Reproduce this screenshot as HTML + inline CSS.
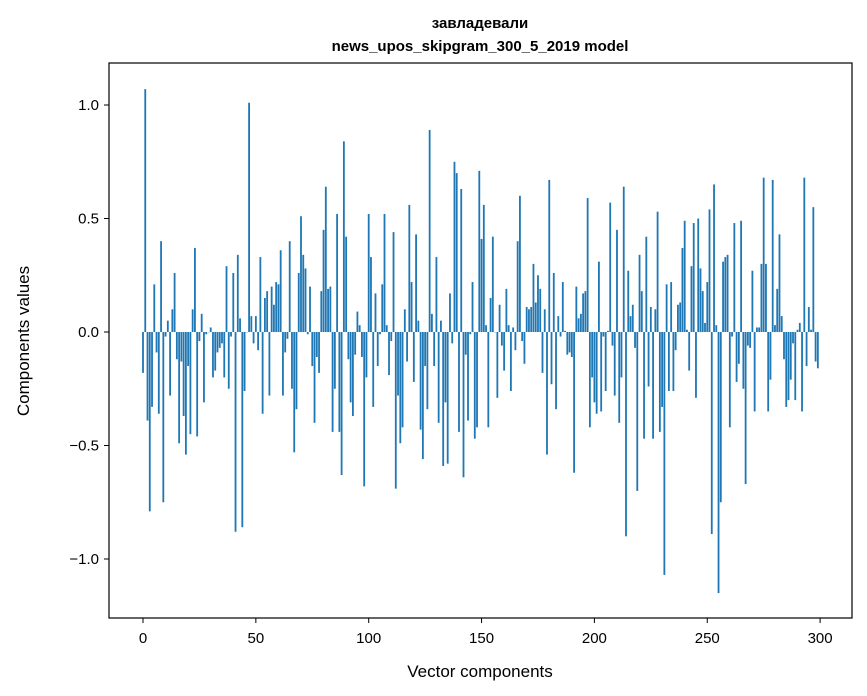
<!DOCTYPE html>
<html><head><meta charset="utf-8"><style>
html,body{margin:0;padding:0;background:#fff;}
svg{display:block;font-family:"Liberation Sans","DejaVu Sans",sans-serif;}
</style></head><body>
<svg id="chart" width="867" height="696" viewBox="0 0 867 696" xmlns="http://www.w3.org/2000/svg">
<rect width="867" height="696" fill="#fff"/>
<text x="480" y="28" text-anchor="middle" font-size="15" font-weight="bold">завладевали</text>
<text x="480" y="51" text-anchor="middle" font-size="15" font-weight="bold">news_upos_skipgram_300_5_2019 model</text>
<g id="bars"></g>
<g id="axes"></g>
<rect x="109" y="63" width="743" height="555" fill="none" stroke="#000" stroke-width="1.2"/>
<text x="480" y="677" text-anchor="middle" font-size="17">Vector components</text>
<text transform="translate(29,341) rotate(-90)" text-anchor="middle" font-size="17">Components values</text>
</svg>
<script>
const values = [
-0.18,1.07,-0.39,-0.79,-0.33,0.21,-0.09,-0.36,0.40,-0.75,
-0.02,0.05,-0.28,0.10,0.26,-0.12,-0.49,-0.13,-0.37,-0.54,
-0.15,-0.45,0.10,0.37,-0.46,-0.04,0.08,-0.31,-0.01,0.0,
0.02,-0.20,-0.17,-0.09,-0.07,-0.05,-0.20,0.29,-0.25,-0.02,
0.26,-0.88,0.34,0.06,-0.86,-0.26,0.0,1.01,0.07,-0.05,
0.07,-0.08,0.33,-0.36,0.15,0.18,-0.28,0.20,0.12,0.22,
0.21,0.36,-0.28,-0.09,-0.03,0.40,-0.25,-0.53,-0.34,0.26,
0.51,0.34,0.28,-0.01,0.20,-0.15,-0.40,-0.11,-0.18,0.18,
0.45,0.64,0.19,0.20,-0.44,-0.25,0.52,-0.44,-0.63,0.84,
0.42,-0.12,-0.31,-0.37,-0.10,0.09,0.03,-0.11,-0.68,-0.20,
0.52,0.33,-0.33,0.17,-0.15,-0.01,0.21,0.52,0.03,-0.19,
-0.04,0.44,-0.69,-0.28,-0.49,-0.42,0.10,-0.13,0.56,0.22,
-0.22,0.43,0.05,-0.43,-0.56,-0.15,-0.34,0.89,0.08,-0.15,
0.33,-0.40,0.05,-0.59,-0.31,-0.58,0.17,-0.05,0.75,0.70,
-0.44,0.63,-0.64,-0.10,-0.39,-0.01,0.22,-0.47,-0.42,0.71,
0.41,0.56,0.03,-0.42,0.15,0.42,0.0,-0.29,0.12,-0.06,
-0.17,0.19,0.03,-0.26,0.02,-0.08,0.40,0.60,-0.04,-0.14,
0.11,0.10,0.11,0.30,0.13,0.25,0.19,-0.18,0.10,-0.54,
0.67,-0.23,0.26,-0.34,0.07,-0.02,0.22,0.005,-0.10,-0.09,
-0.11,-0.62,0.20,0.06,0.08,0.17,0.18,0.59,-0.42,-0.20,
-0.31,-0.36,0.31,-0.35,-0.02,-0.26,0.005,0.57,-0.06,-0.28,
0.45,-0.40,-0.20,0.64,-0.90,0.27,0.07,0.12,-0.07,-0.70,
0.34,0.18,-0.47,0.42,-0.24,0.11,-0.47,0.10,0.53,-0.44,
-0.33,-1.07,0.21,-0.26,0.22,-0.26,-0.08,0.12,0.13,0.37,
0.49,0.01,-0.17,0.29,0.48,-0.29,0.50,0.28,0.18,0.04,
0.22,0.54,-0.89,0.65,0.03,-1.15,-0.75,0.31,0.33,0.34,
-0.42,-0.02,0.48,-0.22,-0.14,0.49,-0.25,-0.67,-0.06,-0.07,
0.27,-0.35,0.02,0.02,0.30,0.68,0.30,-0.35,-0.21,0.67,
0.03,0.19,0.43,0.07,-0.12,-0.33,-0.30,-0.21,-0.05,-0.30,
0.01,0.04,-0.35,0.68,-0.15,0.11,0.01,0.55,-0.13,-0.16
];
const xTicks = [0,50,100,150,200,250,300];
const yTicks = [-1.0,-0.5,0.0,0.5,1.0];
const yTickLabels = ["\u22121.0","\u22120.5","0.0","0.5","1.0"];

const NS = "http://www.w3.org/2000/svg";
function xScale(v){ return 143 + 2.257 * v; }
function yScale(v){ return 332 - 227 * v; }

const barsG = document.getElementById('bars');
const bw = 2.257 * 0.8;
values.forEach((v, i) => {
  const r = document.createElementNS(NS, 'rect');
  
  
  const y0 = yScale(0), y1 = yScale(v);
  r.setAttribute('x', (xScale(i) - bw / 2).toFixed(2));
  r.setAttribute('y', Math.min(y0, y1).toFixed(2));
  r.setAttribute('width', bw.toFixed(2));
  r.setAttribute('height', Math.max(Math.abs(y1 - y0), 0.3).toFixed(2));
  r.setAttribute('fill', '#1f77b4');
  barsG.appendChild(r);
});

const axesG = document.getElementById('axes');
xTicks.forEach(t => {
  const x = xScale(t);
  const l = document.createElementNS(NS, 'line');
  
  
  l.setAttribute('x1', x); l.setAttribute('x2', x);
  l.setAttribute('y1', 618); l.setAttribute('y2', 623);
  l.setAttribute('stroke', '#000');
  axesG.appendChild(l);
  const tx = document.createElementNS(NS, 'text');
  
  
  tx.setAttribute('x', x); tx.setAttribute('y', 643);
  tx.setAttribute('text-anchor', 'middle');
  tx.setAttribute('font-size', '15');
  tx.textContent = String(t);
  axesG.appendChild(tx);
});
yTicks.forEach((t, i) => {
  const y = yScale(t);
  const l = document.createElementNS(NS, 'line');
  
  
  l.setAttribute('x1', 104); l.setAttribute('x2', 109);
  l.setAttribute('y1', y); l.setAttribute('y2', y);
  l.setAttribute('stroke', '#000');
  axesG.appendChild(l);
  const tx = document.createElementNS(NS, 'text');
  
  
  tx.setAttribute('x', 99); tx.setAttribute('y', y + 5);
  tx.setAttribute('text-anchor', 'end');
  tx.setAttribute('font-size', '15');
  tx.textContent = yTickLabels[i];
  axesG.appendChild(tx);
});
</script>
</body></html>
